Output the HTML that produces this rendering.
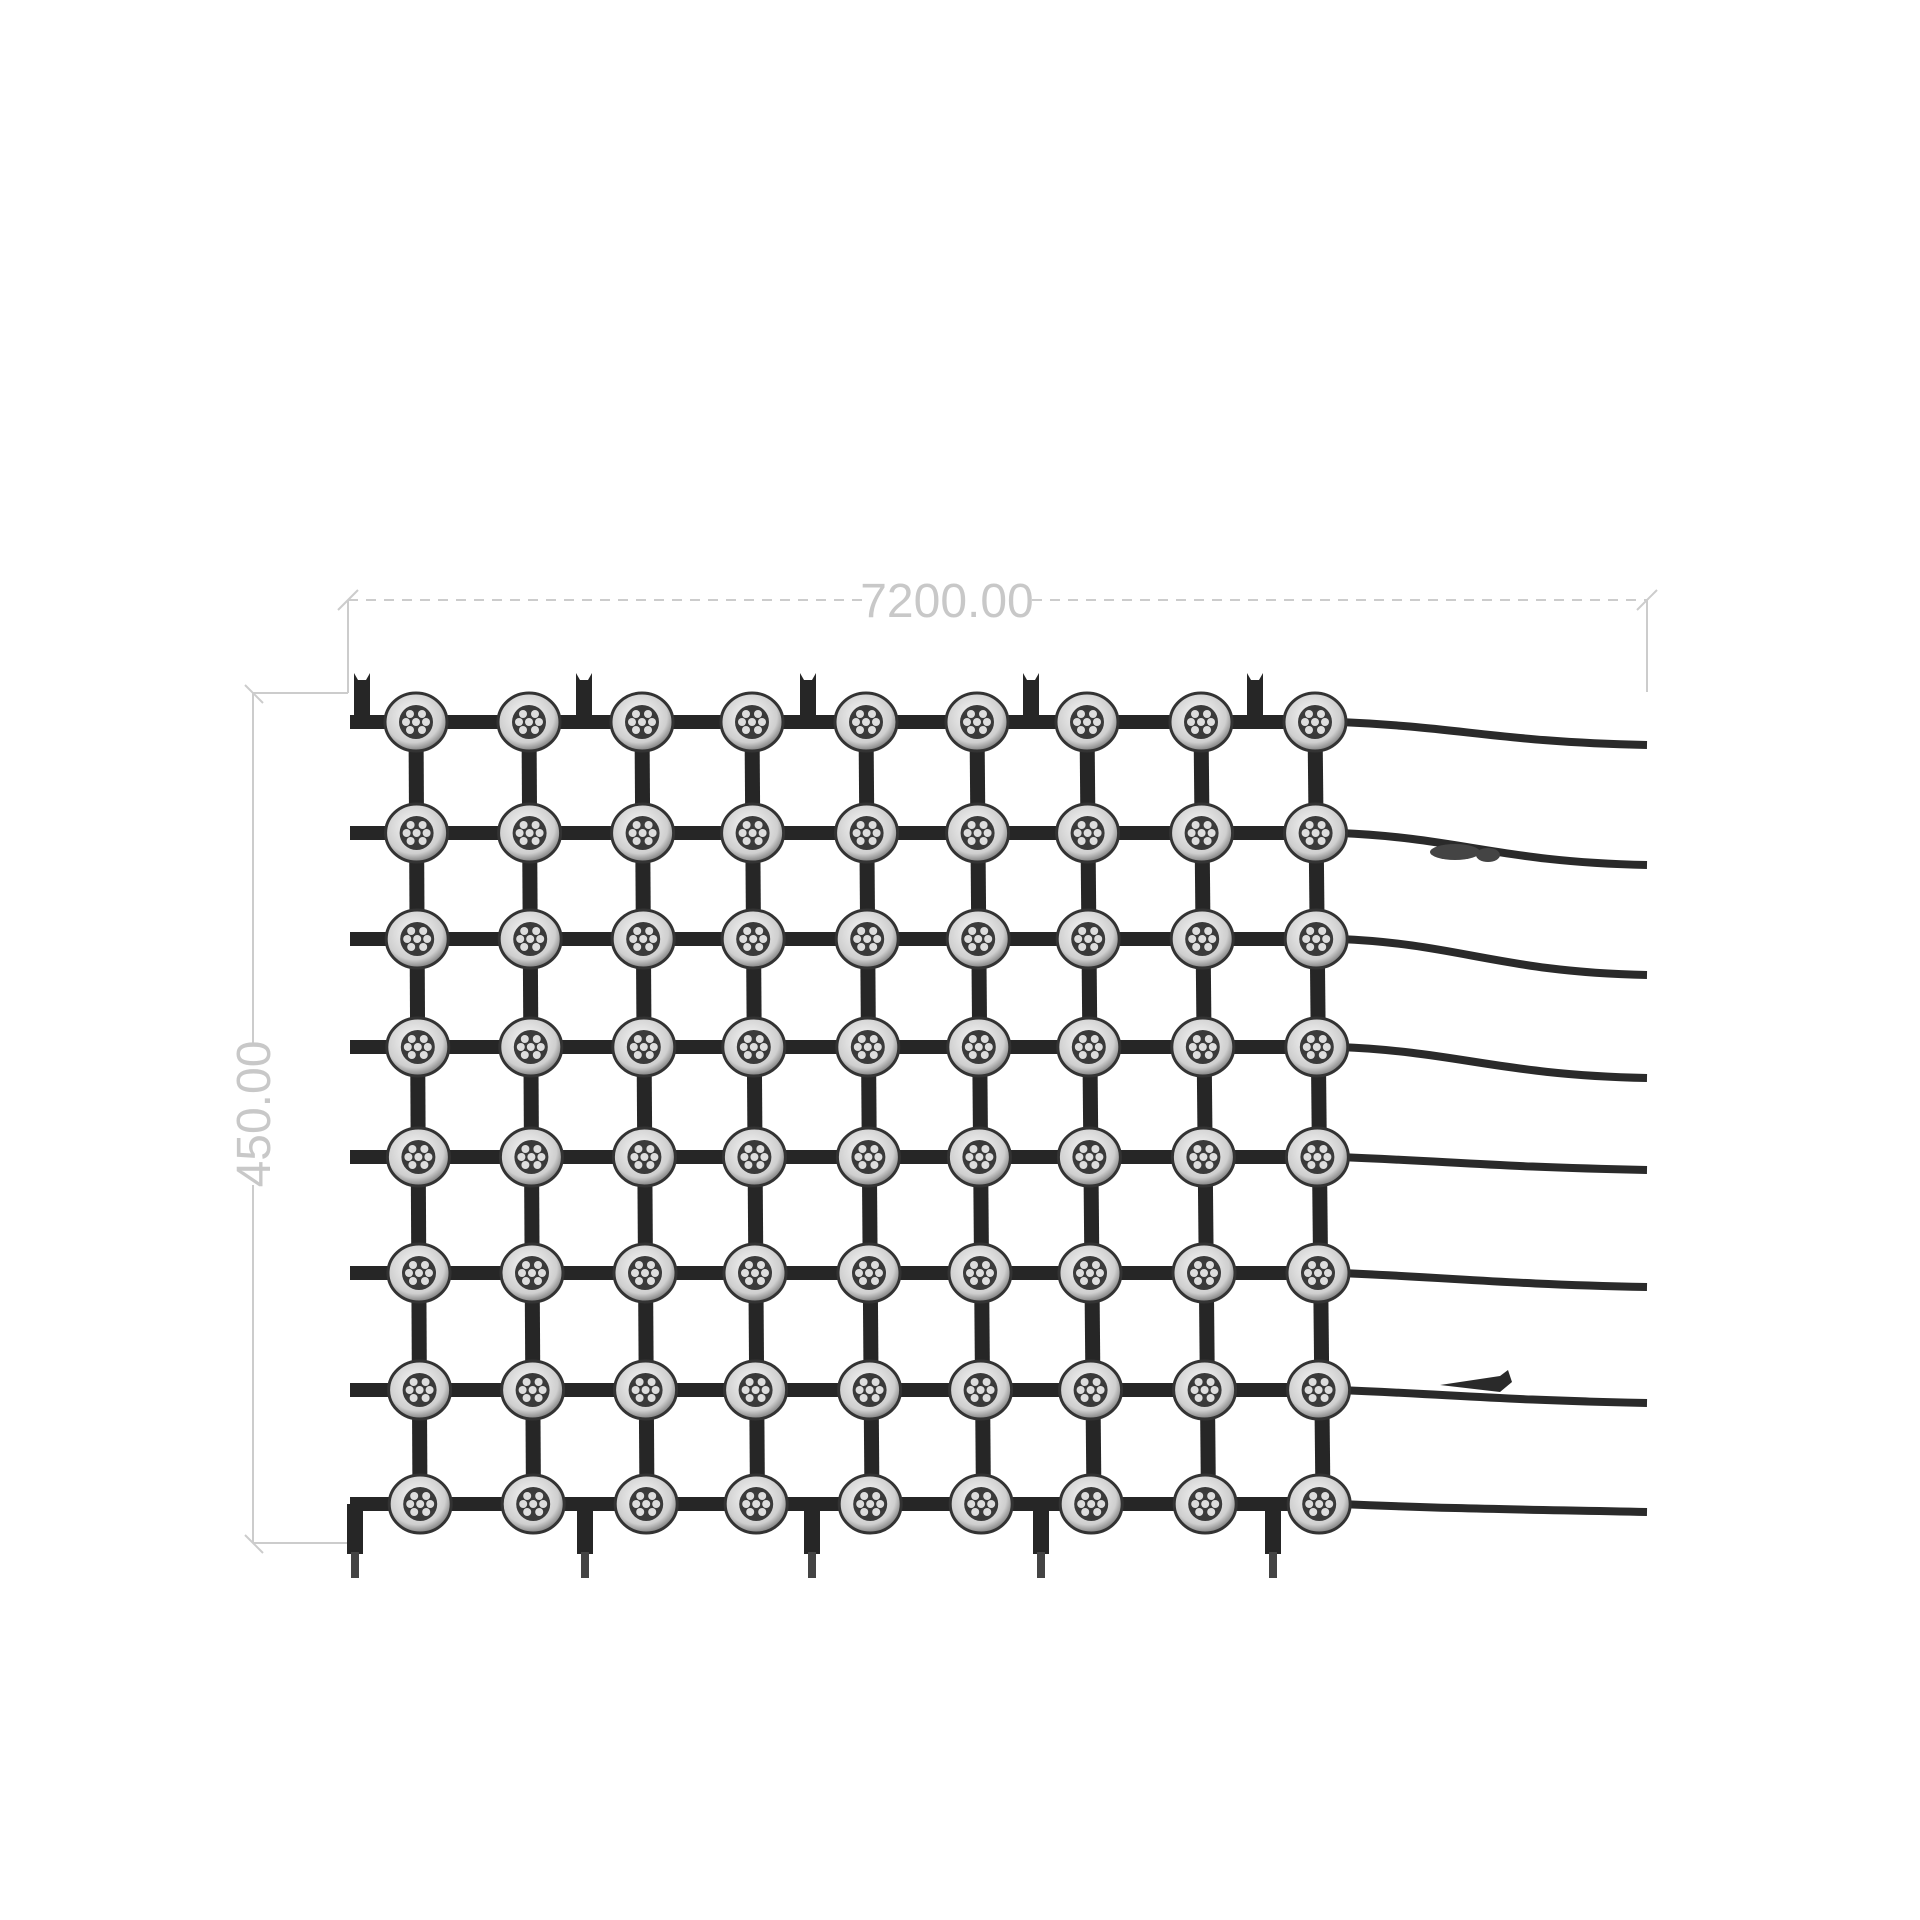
<!DOCTYPE html>
<html><head><meta charset="utf-8"><style>
html,body{margin:0;padding:0;background:#fff;width:1920px;height:1920px;overflow:hidden}
svg{display:block}
</style></head><body>
<svg id="s" width="1920" height="1920" viewBox="0 0 1920 1920" xmlns="http://www.w3.org/2000/svg">
<defs>
<radialGradient id="g" cx="0.45" cy="0.4" r="0.65">
<stop offset="0" stop-color="#f8f8f8"/><stop offset="0.7" stop-color="#cfcfcf"/><stop offset="1" stop-color="#666"/>
</radialGradient>
<g id="n">
<ellipse cx="0" cy="0" rx="31" ry="29" fill="url(#g)" stroke="#333" stroke-width="3"/>
<circle cx="0" cy="0" r="17" fill="#3a3a3a"/>
<circle cx="-6" cy="-8" r="4" fill="#ddd"/><circle cx="6" cy="-8" r="4" fill="#ddd"/>
<circle cx="-10" cy="0" r="4" fill="#ddd"/><circle cx="0" cy="0" r="4" fill="#ddd"/><circle cx="10" cy="0" r="4" fill="#ddd"/>
<circle cx="-6" cy="8" r="4" fill="#ddd"/><circle cx="6" cy="8" r="4" fill="#ddd"/>
</g>
</defs>
<g stroke="#ccc" stroke-width="2" fill="none">
<line x1="348" y1="600" x2="1647" y2="600" stroke-dasharray="10 8"/>
<line x1="348" y1="600" x2="348" y2="693"/>
<line x1="1647" y1="600" x2="1647" y2="692"/>
<line x1="338" y1="610" x2="358" y2="590"/>
<line x1="1637" y1="610" x2="1657" y2="590"/>
<line x1="253" y1="693" x2="348" y2="693"/>
<line x1="253" y1="693" x2="253" y2="1543"/>
<line x1="253" y1="1543" x2="348" y2="1543"/>
<line x1="245" y1="685" x2="263" y2="703"/>
<line x1="245" y1="1535" x2="263" y2="1553"/>
</g>
<rect x="870" y="575" width="155" height="50" fill="#fff"/>
<text x="947" y="617" font-family="Liberation Sans, sans-serif" font-size="48" fill="#c8c8c8" text-anchor="middle">7200.00</text>
<rect x="228" y="1045" width="50" height="140" fill="#fff"/>
<text x="0" y="0" transform="translate(270,1114) rotate(-90)" font-family="Liberation Sans, sans-serif" font-size="48" fill="#c8c8c8" text-anchor="middle">450.00</text>
<g id="grid"></g>
</svg>
<script>
var cols=[416,529,642,752,866,977,1087,1201,1315];
var rows=[722,833,939,1047,1157,1273,1390,1504];
var g=document.getElementById('grid'),h='';
cols.forEach(function(x,i){h+='<line x1="'+x+'" y1="722" x2="'+(x+i*0.5+4)+'" y2="1504" stroke="#262626" stroke-width="15"/>';});
rows.forEach(function(y,j){
 h+='<line x1="350" y1="'+y+'" x2="1315" y2="'+y+'" stroke="#262626" stroke-width="14"/>';
 var e=[745,865,975,1078,1170,1287,1403,1512][j];
 h+='<path d="M1340 '+y+' C1460 '+(y+5)+' 1500 '+(e-3)+' 1647 '+e+'" stroke="#2a2a2a" stroke-width="8" fill="none"/>';
 cols.forEach(function(x){h+='<use href="#n" x="'+(x+j*0.6)+'" y="'+y+'"/>';});
});
[362,584,808,1031,1255].forEach(function(x){
 h+='<path d="M'+(x-8)+' 724 L'+(x-8)+' 673 L'+(x-4)+' 680 L'+(x+4)+' 680 L'+(x+8)+' 673 L'+(x+8)+' 724 Z" fill="#262626"/>';
});
[355,585,812,1041,1273].forEach(function(x){
 h+='<rect x="'+(x-8)+'" y="1504" width="16" height="50" fill="#262626"/><rect x="'+(x-4)+'" y="1552" width="8" height="26" fill="#444"/>';
});
h+='<ellipse cx="1455" cy="852" rx="25" ry="8" fill="#444"/><ellipse cx="1488" cy="855" rx="12" ry="7" fill="#444"/>';
h+='<path d="M1440 1385 L1500 1376 L1508 1370 L1512 1382 L1500 1392 Z" fill="#2a2a2a"/>';
g.innerHTML=h;
</script>
</body></html>
